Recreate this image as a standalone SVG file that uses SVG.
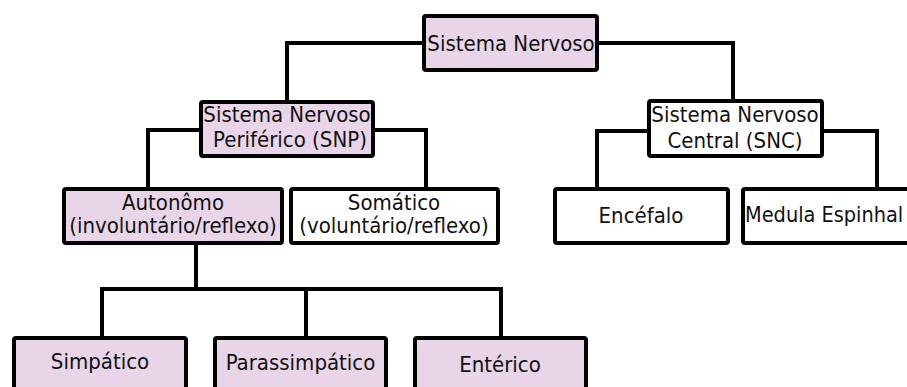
<svg xmlns="http://www.w3.org/2000/svg" width="907" height="387" viewBox="0 0 907 387">
<style>
.box{stroke:#000;stroke-width:4;rx:2}
.p{fill:#e8d6e8}
.w{fill:#fff}
.t{font-family:"DejaVu Sans Condensed","DejaVu Sans",sans-serif;font-stretch:condensed;font-size:22px;fill:#111;text-anchor:middle}
.c{fill:none;stroke:#000;stroke-width:4;stroke-linejoin:miter}
</style>
<rect width="907" height="387" fill="#fff"/>
<g id="connectors">
<path class="c" d="M424 43H287V102"/>
<path class="c" d="M597 43H733V101"/>
<path class="c" d="M201 130H148V189"/>
<path class="c" d="M373 130H426V189"/>
<path class="c" d="M649 131H597V189"/>
<path class="c" d="M822 131H877V189"/>
<path class="c" d="M196 243V289"/>
<path class="c" d="M102 338V289H501V338"/>
<path class="c" d="M306 289V338"/>
</g>
<g id="n-sn"><rect class="box p" x="424" y="16" width="173" height="54"/><text class="t" x="511" y="50.5">Sistema Nervoso</text></g>
<g id="n-snp"><rect class="box p" x="201" y="102" width="172" height="54"/><text class="t" x="287" y="122">Sistema Nervoso</text><text class="t" x="290" y="147">Periférico (SNP)</text></g>
<g id="n-snc"><rect class="box w" x="649" y="101" width="173" height="55"/><text class="t" x="735" y="122">Sistema Nervoso</text><text class="t" x="735" y="148">Central (SNC)</text></g>
<g id="n-aut"><rect class="box p" x="64" y="189" width="218" height="54"/><text class="t" x="173" y="210">Autonômo</text><text class="t" x="173" y="233">(involuntário/reflexo)</text></g>
<g id="n-som"><rect class="box w" x="291" y="189" width="207" height="54"/><text class="t" x="394" y="210">Somático</text><text class="t" x="394" y="233">(voluntário/reflexo)</text></g>
<g id="n-enc"><rect class="box w" x="555" y="189" width="173" height="54"/><text class="t" x="641" y="223">Encéfalo</text></g>
<g id="n-med"><rect class="box w" x="743" y="189" width="180" height="54"/><text class="t" x="745" y="222" style="text-anchor:start;font-size:21.5px">Medula Espinhal</text></g>
<g id="n-simp"><rect class="box p" x="14" y="338" width="172" height="60"/><text class="t" x="100" y="369">Simpático</text></g>
<g id="n-para"><rect class="box p" x="215" y="338" width="171" height="60"/><text class="t" x="300.5" y="370">Parassimpático</text></g>
<g id="n-ent"><rect class="box p" x="415" y="338" width="171" height="60"/><text class="t" x="500" y="372">Entérico</text></g>
</svg>
